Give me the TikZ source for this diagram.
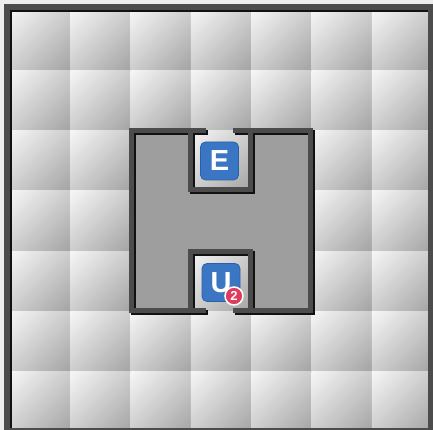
\documentclass[tikz,border=0pt]{standalone}
\usepackage{fontspec}
\setmainfont{Liberation Sans}
\usetikzlibrary{shadings}
\definecolor{tilelight}{HTML}{F6F6F6}
\definecolor{tilemid}{HTML}{CDCDCD}
\definecolor{tiledark}{HTML}{A3A3A3}
\definecolor{floorgray}{HTML}{9E9E9E}
\definecolor{wallgray}{HTML}{4C4C4C}
\definecolor{wallshadow}{HTML}{111111}
\definecolor{iconblue}{HTML}{3A76C4}
\definecolor{iconedge}{HTML}{2C60A6}
\definecolor{badgered}{HTML}{E03A5C}
\tikzset{
  wall/.style={draw=wallgray, line width=5pt, line cap=rect, line join=miter},
  wallshade/.style={draw=wallshadow, line width=5pt, line cap=rect, line join=miter,
    transform canvas={shift={(2pt,-2pt)}}},
  icon/.style={fill=iconblue, draw=iconedge, line width=0.8pt, rounded corners=5pt,
    minimum size=38pt, inner sep=0pt, text=white, font=\bfseries\fontsize{29}{29}\selectfont},
  badge/.style={circle, fill=badgered, draw=white, line width=1.5pt, minimum size=18pt,
    inner sep=0pt, text=white, font=\bfseries\fontsize{13}{13}\selectfont}
}
\begin{document}
\begin{tikzpicture}[x=1pt, y=-1pt]
    \useasboundingbox (0,0) rectangle (433,430);
    \fill[white!93!black] (0,0) rectangle (433,430);

    % Tiles
    \foreach \i in {0,...,6} {
      \foreach \j in {0,...,6} {
        \shade[upper left=tilelight, upper right=tilemid, lower left=tilemid, lower right=tiledark]
          (10+60.3*\i, 10+60.3*\j) rectangle (10+60.3*\i+60.3, 10+60.3*\j+60.3);
      }
    }

    \coordinate (A) at (131,131);
    \coordinate (B) at (190,131);
    \coordinate (C) at (203,131);
    \coordinate (D) at (235,131);
    \coordinate (E) at (250,131);
    \coordinate (F) at (310,131);
    \coordinate (G) at (190,190);
    \coordinate (H) at (250,190);
    \coordinate (I) at (190,251);
    \coordinate (J) at (250,251);
    \coordinate (K) at (131,310);
    \coordinate (L) at (190,310);
    \coordinate (M) at (203,310);
    \coordinate (N) at (235,310);
    \coordinate (O) at (250,310);
    \coordinate (P) at (310,310);

    % Floor
    \fill[floorgray] (A) -- (B) -- (G) -- (H) -- (E) -- (F) -- (P) -- (O) -- (J) -- (I) -- (L) -- (K) -- cycle;

    % Walls
    \foreach \s in {wallshade, wall} {
      \draw[\s] (C) -- (A) -- (K) -- (M);
      \draw[\s] (N) -- (P) -- (F) -- (D);
      \draw[\s] (B) -- (G) -- (H) -- (E);
      \draw[\s] (L) -- (I) -- (J) -- (O);
    }

    % Frame
    \draw[wallshadow, line width=6pt] (9,9) rectangle (433,433);
    \draw[wallgray, line width=6pt] (7,7) rectangle (431,431);

    % Icons
    \node[icon] (exit) at (219.5,161) {E};
    \node[icon] (unit) at (221,282.5) {U};
    \node[badge] (count) at (234,296) {2};
\end{tikzpicture}
\end{document}
